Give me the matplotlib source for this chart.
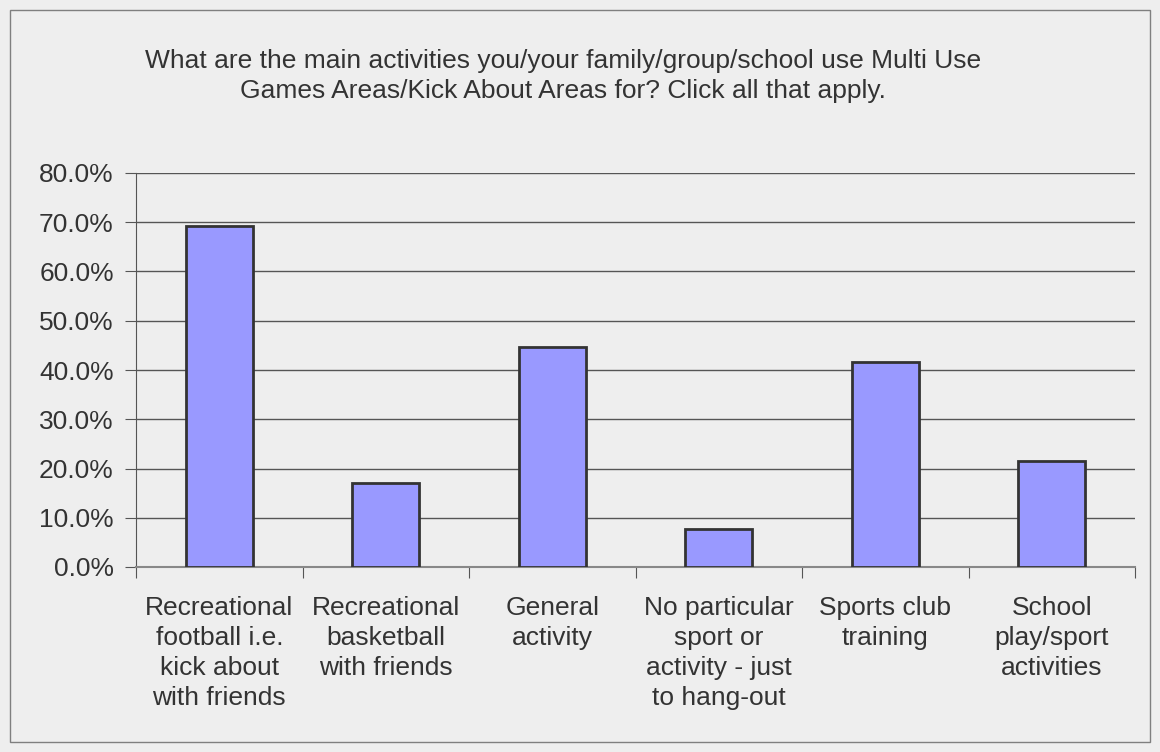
import matplotlib
matplotlib.use("Agg")
import matplotlib.pyplot as plt
from matplotlib.patches import Rectangle
import numpy as np

plt.rcParams['font.family'] = ['Liberation Sans', 'DejaVu Sans']

categories = [
    "Recreational\nfootball i.e.\nkick about\nwith friends",
    "Recreational\nbasketball\nwith friends",
    "General\nactivity",
    "No particular\nsport or\nactivity - just\nto hang-out",
    "Sports club\ntraining",
    "School\nplay/sport\nactivities",
]
values = [69.2, 17.0, 44.6, 7.7, 41.6, 21.5]
title = ("What are the main activities you/your family/group/school use Multi Use\n"
         "Games Areas/Kick About Areas for? Click all that apply.")

bg = "#eeeeee"
txt = "#333333"

fig = plt.figure(figsize=(11.6, 7.52), dpi=100, facecolor=bg)
fig.patches.append(Rectangle((10 / 1160, 10 / 752), 1140 / 1160, 732 / 752,
                             transform=fig.transFigure, fill=False,
                             edgecolor="#7f7f7f", linewidth=1))

ax = fig.add_axes([136 / 1160, 1 - 567 / 752, 999 / 1160, 394 / 752])
ax.set_facecolor(bg)

x = np.arange(len(values))
ax.bar(x, values, width=0.4, color="#9999ff", edgecolor="#333333",
       linewidth=2, zorder=3)

ax.set_xlim(-0.5, len(values) - 0.5)
ax.set_ylim(0, 80)
ax.set_yticks(np.arange(0, 81, 10))
ax.set_yticklabels([f"{v:.1f}%" for v in np.arange(0, 81, 10)])
ax.yaxis.grid(True, color="#555555", linewidth=1, zorder=0)

ax.set_xticks(np.arange(-0.5, len(values), 1))
ax.set_xticklabels([])
ax.set_xticks(x, minor=True)
ax.set_xticklabels(categories, minor=True)
ax.tick_params(axis="x", which="minor", length=0, pad=21,
               labelsize=19, labelcolor=txt)
ax.tick_params(axis="x", which="major", length=8, color="#555555",
               direction="out")
ax.tick_params(axis="y", length=8, color="#555555", labelsize=19,
               labelcolor=txt, pad=8)
for lbl in ax.get_xticklabels(minor=True):
    lbl.set_verticalalignment("top")
    lbl.set_multialignment("center")
    lbl.set_linespacing(1.31)

for s in ["top", "right"]:
    ax.spines[s].set_visible(False)
ax.spines["left"].set_color("#555555")
ax.spines["bottom"].set_color("#888888")
ax.spines["bottom"].set_linewidth(1.5)

fig.text(563 / 1160, 1 - 76 / 752, title, ha="center", va="center",
         fontsize=19, color=txt, linespacing=1.36)

fig.savefig("out.png", dpi=100, facecolor=bg)
